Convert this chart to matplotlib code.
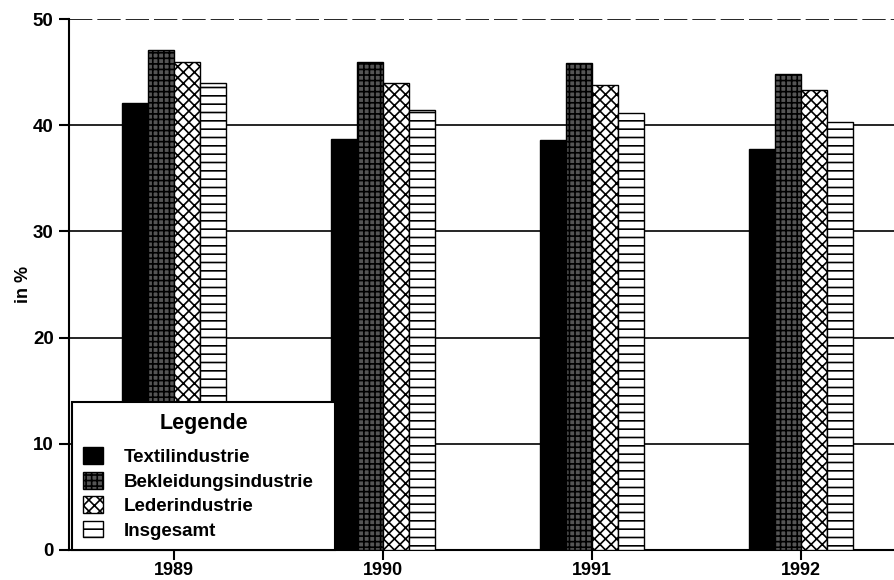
import matplotlib
matplotlib.use("Agg")
import matplotlib.pyplot as plt
import numpy as np
from matplotlib.patches import Patch

years = ['1989', '1990', '1991', '1992']
series_names = ['Textilindustrie', 'Bekleidungsindustrie', 'Lederindustrie', 'Insgesamt']
textil = [42.1, 38.7, 38.6, 37.8]
bekleidung = [47.1, 46.0, 45.9, 44.8]
leder = [46.0, 44.0, 43.8, 43.3]
insgesamt = [44.0, 41.4, 41.2, 40.3]
yticks = [0, 10, 20, 30, 40, 50]

plt.rcParams['font.family'] = ['Liberation Sans', 'DejaVu Sans']
plt.rcParams['hatch.linewidth'] = 1.2

fig = plt.figure(figsize=(8.95, 5.8), dpi=100)
ax = fig.add_axes([0.077, 0.052, 0.923, 0.915])

styles = [
    dict(facecolor='black', hatch=None),
    dict(facecolor='#555555', hatch='+++'),
    dict(facecolor='white', hatch='xxx'),
    dict(facecolor='white', hatch='--'),
]
data = [textil, bekleidung, leder, insgesamt]
x = np.arange(len(years))
w = 0.125
for i, (vals, st) in enumerate(zip(data, styles)):
    ax.bar(x + (i - 1.5) * w, vals, width=w, facecolor=st['facecolor'],
           edgecolor='black', hatch=st['hatch'], linewidth=1.0, zorder=3)

# grid lines
for yv in yticks[1:-1]:
    ax.axhline(yv, color='black', linewidth=1.2, zorder=1)
ax.axhline(50, color='black', linewidth=1.2, linestyle=(0, (14, 3)), zorder=1)

ax.set_xlim(-0.502, 3.45)
ax.set_ylim(0, 50)
ax.set_yticks(yticks)
ax.set_xticks(x)
ax.set_xticklabels(years)
for s in ['top', 'right']:
    ax.spines[s].set_visible(False)
for s in ['left', 'bottom']:
    ax.spines[s].set_linewidth(1.5)
ax.tick_params(axis='y', direction='out', length=7, width=1.5,
               labelsize=13.5, pad=4)
ax.tick_params(axis='x', direction='out', length=7, width=1.5,
               labelsize=13, pad=2)
for lab in ax.get_xticklabels() + ax.get_yticklabels():
    lab.set_fontweight('bold')
ax.set_ylabel('in %', fontsize=13, fontweight='bold')
ax.yaxis.set_label_coords(-0.045, 0.5)

handles = [Patch(facecolor=st['facecolor'], edgecolor='black', hatch=st['hatch'])
           for st in styles]
leg = ax.legend(handles, series_names, title='Legende', loc='lower left',
                bbox_to_anchor=(0.004, 0.0, 0.318, 0.3), mode='expand',
                borderaxespad=0, fancybox=False, framealpha=1,
                edgecolor='black', handlelength=1.1, handleheight=1.0,
                handletextpad=1.1, labelspacing=0.3,
                prop={'size': 13.5, 'weight': 'bold'},
                title_fontproperties={'size': 15.5, 'weight': 'bold'},
                borderpad=0.55)
leg.get_frame().set_linewidth(1.5)
leg.set_zorder(5)
try:
    leg._legend_box.sep = 10
except Exception:
    pass

fig.savefig('out.png', dpi=100)
